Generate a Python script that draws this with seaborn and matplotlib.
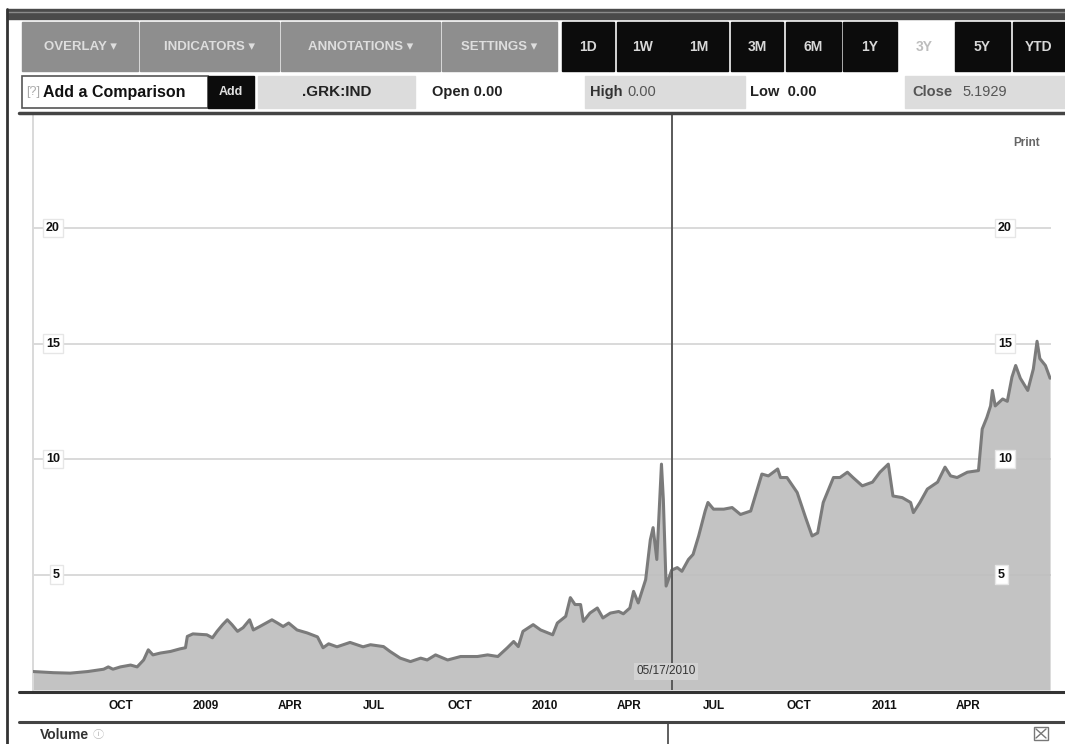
import matplotlib
matplotlib.use("Agg")
import matplotlib.pyplot as plt
from matplotlib.patches import Rectangle
import seaborn as sns
import pandas as pd

# spread series
dates = ["2008-06-29", "2008-07-21", "2008-08-08", "2008-08-27", "2008-09-13", "2008-09-18",
         "2008-09-23", "2008-10-01", "2008-10-12", "2008-10-19", "2008-10-26", "2008-10-31",
         "2008-11-05", "2008-11-13", "2008-11-24", "2008-12-04", "2008-12-10", "2008-12-12",
         "2008-12-18", "2009-01-02", "2009-01-08", "2009-01-13", "2009-01-19", "2009-01-24",
         "2009-01-29", "2009-02-04", "2009-02-10", "2009-02-17", "2009-02-21", "2009-02-28",
         "2009-03-13", "2009-03-19", "2009-03-25", "2009-03-31", "2009-04-09", "2009-04-20",
         "2009-05-01", "2009-05-07", "2009-05-13", "2009-05-22", "2009-06-05", "2009-06-19",
         "2009-06-27", "2009-07-11", "2009-07-18", "2009-07-29", "2009-08-09", "2009-08-20",
         "2009-08-27", "2009-09-05", "2009-09-18", "2009-10-02", "2009-10-20", "2009-10-31",
         "2009-11-11", "2009-11-21", "2009-11-28", "2009-12-03", "2009-12-08", "2009-12-19",
         "2009-12-27", "2010-01-09", "2010-01-14", "2010-01-23", "2010-01-28", "2010-02-02",
         "2010-02-08", "2010-02-11", "2010-02-18", "2010-02-26", "2010-03-04", "2010-03-12",
         "2010-03-21", "2010-03-26", "2010-04-02", "2010-04-06", "2010-04-11", "2010-04-19",
         "2010-04-24", "2010-04-27", "2010-05-01", "2010-05-06", "2010-05-08", "2010-05-11",
         "2010-05-17", "2010-05-23", "2010-05-28", "2010-06-04", "2010-06-09", "2010-06-15",
         "2010-06-22", "2010-06-25", "2010-07-01", "2010-07-12", "2010-07-21", "2010-07-30",
         "2010-08-10", "2010-08-22", "2010-08-29", "2010-09-08", "2010-09-11", "2010-09-18",
         "2010-09-29", "2010-10-08", "2010-10-15", "2010-10-21", "2010-10-27", "2010-11-07",
         "2010-11-14", "2010-11-22", "2010-11-28", "2010-12-08", "2010-12-19", "2010-12-27",
         "2011-01-05", "2011-01-10", "2011-01-20", "2011-01-29", "2011-02-01", "2011-02-08",
         "2011-02-16", "2011-02-27", "2011-03-07", "2011-03-13", "2011-03-20", "2011-03-31",
         "2011-04-12", "2011-04-16", "2011-04-21", "2011-04-25", "2011-04-27", "2011-04-30",
         "2011-05-08", "2011-05-13", "2011-05-18", "2011-05-22", "2011-05-27", "2011-06-04",
         "2011-06-10", "2011-06-14", "2011-06-17", "2011-06-23", "2011-06-28"]
values = [0.80, 0.75, 0.73, 0.80, 0.90, 1.00,
          0.90, 1.00, 1.08, 1.00, 1.30, 1.74,
          1.52, 1.60, 1.67, 1.78, 1.83, 2.32,
          2.43, 2.39, 2.26, 2.54, 2.83, 3.04,
          2.83, 2.54, 2.70, 3.04, 2.60, 2.75,
          3.04, 2.90, 2.75, 2.90, 2.60, 2.47,
          2.30, 1.83, 2.00, 1.87, 2.06, 1.87,
          1.96, 1.88, 1.67, 1.38, 1.23, 1.38,
          1.30, 1.52, 1.30, 1.45, 1.45, 1.52,
          1.45, 1.82, 2.10, 1.88, 2.54, 2.83,
          2.60, 2.39, 2.90, 3.19, 4.00, 3.70,
          3.70, 2.97, 3.33, 3.55, 3.12, 3.33,
          3.40, 3.30, 3.55, 4.27, 3.77, 4.78,
          6.50, 7.03, 5.65, 9.78, 8.26, 4.50,
          5.19, 5.30, 5.14, 5.65, 5.87, 6.67,
          7.75, 8.12, 7.83, 7.83, 7.90, 7.60,
          7.75, 9.35, 9.27, 9.57, 9.20, 9.20,
          8.55, 7.47, 6.67, 6.80, 8.12, 9.20,
          9.20, 9.43, 9.20, 8.84, 9.00, 9.43,
          9.78, 8.40, 8.33, 8.12, 7.68, 8.12,
          8.70, 9.00, 9.65, 9.27, 9.20, 9.43,
          9.50, 11.30, 11.80, 12.30, 12.97, 12.30,
          12.60, 12.50, 13.55, 14.05, 13.50, 12.97,
          13.90, 15.10, 14.35, 14.05, 13.50]

tick_dates = ["2008-10-01", "2009-01-01", "2009-04-01", "2009-07-01", "2009-10-01", "2010-01-01",
              "2010-04-01", "2010-07-01", "2010-10-01", "2011-01-01", "2011-04-01"]
tick_labels = ["OCT", "2009", "APR", "JUL", "OCT", "2010", "APR", "JUL", "OCT", "2011", "APR"]
grid_dates = [d for d in tick_dates if d != "2011-01-01"]
y_ticks = [5, 10, 15, 20]
cursor_date = "2010-05-17"
cursor_label = "05/17/2010"

menu_items = ["OVERLAY \u25be", "INDICATORS \u25be", "ANNOTATIONS \u25be", "SETTINGS \u25be"]
range_items = ["1D", "1W", "1M", "3M", "6M", "1Y", "3Y", "5Y", "YTD"]
selected_range = "3Y"

df = pd.DataFrame({"date": pd.to_datetime(dates), "value": values})

sns.set_theme(style="white")
plt.rcParams["font.family"] = ["Liberation Sans", "DejaVu Sans"]

W, H = 1065, 744
fig = plt.figure(figsize=(W / 100, H / 100), dpi=100)
fig.patch.set_facecolor("white")

# main price panel
ax = fig.add_axes([33 / W, (H - 690) / H, (1051 - 33) / W, (690 - 114) / H])
ax.set_facecolor("white")
ax.fill_between(df["date"], df["value"], 0, color="#bfbfbf", alpha=0.93, zorder=2, linewidth=0)
sns.lineplot(data=df, x="date", y="value", ax=ax, color="#7b7b7b", linewidth=2.2, zorder=3)

ax.set_xlim(pd.Timestamp("2008-06-29"), pd.Timestamp("2011-06-29"))
ax.set_ylim(0, 24.94)
ax.set_xlabel("")
ax.set_ylabel("")

ax.set_xticks(pd.to_datetime(tick_dates))
ax.set_xticklabels(tick_labels, fontsize=8.5, fontweight="bold", color="#111111")
ax.set_xticks(pd.to_datetime(grid_dates), minor=True)
ax.set_yticks(y_ticks)
ax.set_yticklabels([])
ax.tick_params(axis="x", which="both", length=0, pad=7)
ax.tick_params(axis="y", length=0)
ax.grid(False)
ax.grid(axis="x", which="minor", color="#d9d9d9", linewidth=1.4, zorder=1)
ax.grid(axis="y", which="major", color="#d9d9d9", linewidth=1.4, zorder=1)
ax.set_axisbelow(True)
for side in ["top", "right", "bottom"]:
    ax.spines[side].set_visible(False)
ax.spines["left"].set_color("#d9d9d9")
ax.spines["left"].set_linewidth(1.4)

for v in y_ticks:
    ax.text(0.0265, v, str(v), transform=ax.get_yaxis_transform(), ha="right", va="center",
            fontsize=9, fontweight="bold", color="#111111", zorder=5,
            bbox=dict(facecolor="white", edgecolor="#e6e6e6", boxstyle="square,pad=0.25"))
    ax.text(0.948, v, str(v), transform=ax.get_yaxis_transform(), ha="left", va="center",
            fontsize=9, fontweight="bold", color="#111111", zorder=5,
            bbox=dict(facecolor="white", edgecolor="#e6e6e6", boxstyle="square,pad=0.25"))

cur = pd.Timestamp(cursor_date)
ax.axvline(cur, color="#5a5a5a", linewidth=1.4, zorder=4)
ax.text(cur - pd.Timedelta(days=6), 0.55, cursor_label, ha="center", va="bottom", fontsize=8.5,
        color="#333333", zorder=5,
        bbox=dict(facecolor="#d2d2d2", edgecolor="none", boxstyle="square,pad=0.2"))

# screenshot chrome drawn in pixel coordinates
ov = fig.add_axes([0, 0, 1, 1], zorder=10)
ov.set_xlim(0, W)
ov.set_ylim(H, 0)
ov.axis("off")
ov.patch.set_alpha(0)

ov.add_patch(Rectangle((7, 9), W - 7, 10, color="#4a4a4a"))
ov.plot([7, W], [12, 12], color="#8a8a8a", linewidth=1.0)
ov.plot([7, 7], [9, H], color="#333333", linewidth=2.0)

menu_spans = [(22, 138), (140, 279), (281, 440), (442, 557)]
for (x0, x1), label in zip(menu_spans, menu_items):
    ov.add_patch(Rectangle((x0, 22), x1 - x0, 49, color="#8e8e8e"))
    ov.text((x0 + x1) / 2, 47, label, ha="center", va="center", fontsize=9.5,
            fontweight="bold", color="#dedede")

range_spans = [(562, 614), (617, 669), (669, 728), (731, 783), (786, 841), (843, 897),
               (897, 952), (955, 1010), (1013, 1065)]
for (x0, x1), label in zip(range_spans, range_items):
    if label == selected_range:
        ov.text((x0 + x1) / 2, 47, label, ha="center", va="center", fontsize=10,
                fontweight="bold", color="#bdbdbd")
    else:
        ov.add_patch(Rectangle((x0, 22), x1 - x0, 49, color="#0c0c0c"))
        ov.text((x0 + x1) / 2, 47, label, ha="center", va="center", fontsize=10,
                fontweight="bold", color="#d8d8d8")

# comparison / quote row
ov.add_patch(Rectangle((22, 76), 186, 32, facecolor="white", edgecolor="#555555", linewidth=1.2))
ov.text(26, 92, "[?]", ha="left", va="center", fontsize=9, color="#aaaaaa")
ov.text(43, 92, "Add a Comparison", ha="left", va="center", fontsize=11.5,
        fontweight="bold", color="#111111")
ov.add_patch(Rectangle((208, 76), 46, 32, color="#0c0c0c"))
ov.text(231, 92, "Add", ha="center", va="center", fontsize=9, fontweight="bold", color="#e0e0e0")
ov.add_patch(Rectangle((258, 76), 157, 32, color="#dcdcdc"))
ov.text(337, 92, ".GRK:IND", ha="center", va="center", fontsize=11, fontweight="bold", color="#222222")
ov.text(432, 92, "Open 0.00", ha="left", va="center", fontsize=10.5, fontweight="bold", color="#222222")
ov.add_patch(Rectangle((585, 76), 160, 32, color="#dcdcdc"))
ov.text(590, 92, "High", ha="left", va="center", fontsize=10.5, fontweight="bold", color="#333333")
ov.text(627, 92, "0.00", ha="left", va="center", fontsize=10.5, color="#555555")
ov.text(750, 92, "Low  0.00", ha="left", va="center", fontsize=10.5, fontweight="bold", color="#222222")
ov.add_patch(Rectangle((905, 76), 160, 32, color="#dcdcdc"))
ov.text(912, 92, "Close", ha="left", va="center", fontsize=10.5, fontweight="bold", color="#555555")
ov.text(962, 92, "5.1929", ha="left", va="center", fontsize=10.5, color="#555555")

ov.plot([19, W], [113, 113], color="#444444", linewidth=2.5)
ov.text(1027, 143, "Print", ha="center", va="center", fontsize=8.5, fontweight="bold", color="#666666")

# date axis band and volume header
ov.plot([19, W], [691.5, 691.5], color="#333333", linewidth=2.2)
ov.plot([19, W], [722, 722], color="#444444", linewidth=2.2)
ov.plot([668, 668], [723, H], color="#444444", linewidth=1.2)
ov.text(40, 735, "Volume", ha="left", va="center", fontsize=10, fontweight="bold", color="#333333")
ov.text(93, 735, "\u24d8", ha="left", va="center", fontsize=8, color="#bbbbbb",
        family=["Noto Sans CJK JP", "DejaVu Sans"])
ov.add_patch(Rectangle((1034, 727), 14, 13, facecolor="white", edgecolor="#777777", linewidth=1))
ov.plot([1036, 1046], [729, 738], color="#777777", linewidth=1)
ov.plot([1036, 1046], [738, 729], color="#777777", linewidth=1)

fig.savefig("out.png", dpi=100, facecolor="white")
